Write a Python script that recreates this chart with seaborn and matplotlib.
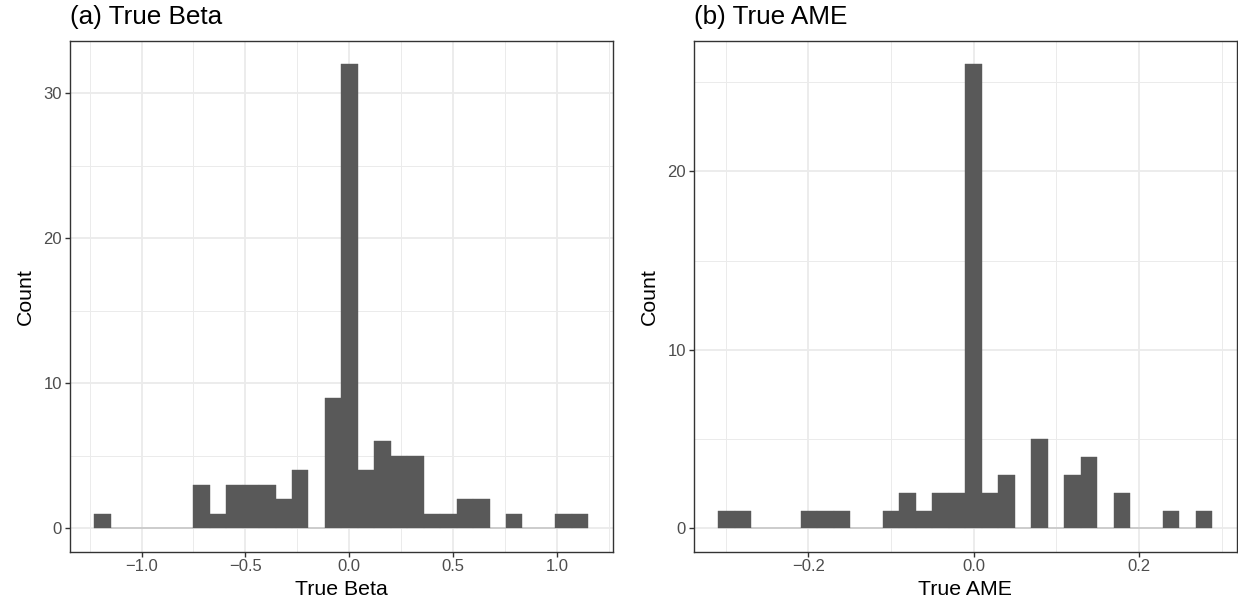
import numpy as np
import pandas as pd
import matplotlib
matplotlib.use('Agg')
import matplotlib.pyplot as plt
from matplotlib.ticker import MultipleLocator
import seaborn as sns

## histogram counts (30 bins per panel)
beta_counts = [1, 0, 0, 0, 0, 0, 3, 1, 3, 3,
               3, 2, 4, 0, 9, 32, 4, 6, 5, 5,
               1, 1, 2, 2, 0, 1, 0, 0, 1, 1]
beta_range = (-1.227, 1.151)

ame_counts = [1, 1, 0, 0, 0, 1, 1, 1, 0, 0,
              1, 2, 1, 2, 2, 26, 2, 3, 0, 5,
              0, 3, 4, 0, 2, 0, 0, 1, 0, 1]
ame_range = (-0.3088, 0.2886)

panel_titles = ['(a) True Beta', '(b) True AME']
x_labels = ['True Beta', 'True AME']
x_major = [0.5, 0.2]
y_major = 10

sns.set_theme(style='white')
plt.rcParams['font.family'] = ['Liberation Sans', 'DejaVu Sans']

bar_grey = '#595959'
grid_grey = '#EBEBEB'
dark = '#333333'


def plot_hist(ax, counts, rng, title, xlabel, xstep):
    edges = np.linspace(rng[0], rng[1], len(counts) + 1)
    centers = (edges[:-1] + edges[1:]) / 2
    df = pd.DataFrame({'x': centers, 'n': counts})
    sns.histplot(data=df, x='x', weights='n', bins=[float(e) for e in edges], ax=ax,
                 color=bar_grey, alpha=1, edgecolor=bar_grey, linewidth=0.3)

    ## ggplot-ish 5% expansion
    span = rng[1] - rng[0]
    ax.set_xlim(rng[0] - 0.05 * span, rng[1] + 0.05 * span)
    top = max(counts)
    ax.set_ylim(-0.05 * top, top * 1.05)

    ax.xaxis.set_major_locator(MultipleLocator(xstep))
    ax.xaxis.set_minor_locator(MultipleLocator(xstep / 2))
    ax.yaxis.set_major_locator(MultipleLocator(y_major))
    ax.yaxis.set_minor_locator(MultipleLocator(y_major / 2))

    ax.grid(which='major', color=grid_grey, linewidth=1.3)
    ax.grid(which='minor', color=grid_grey, linewidth=0.7)
    ax.set_axisbelow(True)

    for s in ax.spines.values():
        s.set_color(dark)
        s.set_linewidth(1.0)

    ax.tick_params(which='major', direction='out', length=3.5, width=1.0,
                   color=dark, labelcolor='#4D4D4D', labelsize=12, pad=2,
                   bottom=True, left=True)
    ax.tick_params(which='minor', length=0)
    ax.xaxis.set_major_formatter(matplotlib.ticker.FuncFormatter(
        lambda v, p: '{:.1f}'.format(v).replace('-', '\u2212') if abs(v) > 1e-9 else '0.0'))

    ax.set_title(title, loc='left', fontsize=18.8, pad=12, color='black')
    ax.set_xlabel(xlabel, fontsize=15.3, color='black', labelpad=4)
    ax.set_ylabel('Count', fontsize=15.3, color='black', labelpad=6)


fig = plt.figure(figsize=(12.38, 6.09), dpi=100)
ax1 = fig.add_axes([0.0563, 0.0941, 0.4389, 0.8386])
ax2 = fig.add_axes([0.5603, 0.0941, 0.4389, 0.8386])

plot_hist(ax1, beta_counts, beta_range, panel_titles[0], x_labels[0], x_major[0])
plot_hist(ax2, ame_counts, ame_range, panel_titles[1], x_labels[1], x_major[1])

fig.savefig('out.png', dpi=100)
